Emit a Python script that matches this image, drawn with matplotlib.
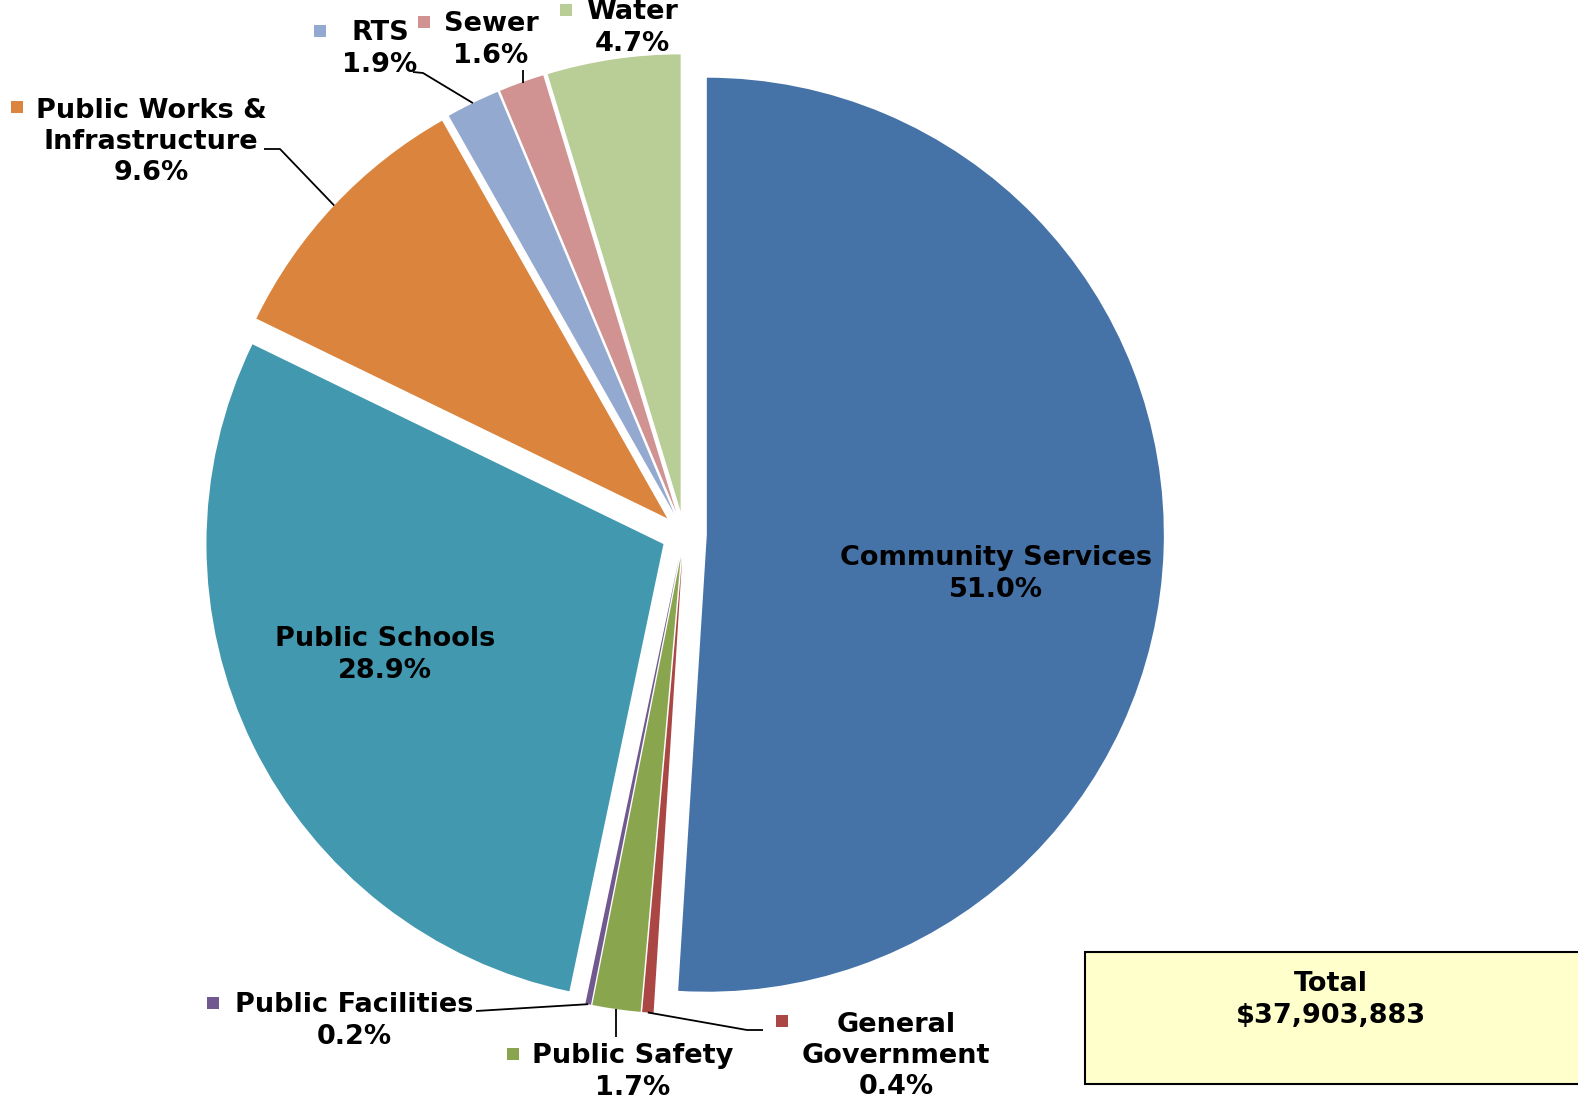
import numpy as np
import matplotlib
matplotlib.use("Agg")
from matplotlib import pyplot as plt
from matplotlib.patches import Rectangle

# spending shares by function, clockwise from 12 o'clock
categories = ["Community Services", "General\nGovernment", "Public Safety",
              "Public Facilities", "Public Schools", "Public Works &\nInfrastructure",
              "RTS", "Sewer", "Water"]
shares = [51.0, 0.4, 1.7, 0.2, 28.9, 9.6, 1.9, 1.6, 4.7]
colors = ["#4572A7", "#AA4643", "#89A54E", "#71588F", "#4198AF",
          "#DB843D", "#93A9CF", "#D19392", "#B9CD96"]
total_label = "Total\n$37,903,883"

W, H = 1578, 1105
FS = 19.5
LS = 1.27

fig = plt.figure(figsize=(W / 100, H / 100), dpi=100)
ax = fig.add_axes([0, 0, 1, 1])

cx, cy = 684, H - 534
R = 457
# pie() takes explode in data units, so scale by the radius
wedges, _ = ax.pie(shares, colors=colors, startangle=90, counterclock=False,
                   radius=R, center=(cx, cy), explode=[0.05 * R] * len(shares),
                   wedgeprops=dict(linewidth=0))
ax.set_xlim(0, W)
ax.set_ylim(0, H)
ax.set_aspect("auto")
ax.axis("off")


def edge_point(i):
    w = wedges[i]
    a = np.deg2rad((w.theta1 + w.theta2) / 2)
    return w.center[0] + w.r * np.cos(a), w.center[1] + w.r * np.sin(a)


def label_text(i):
    return f"{categories[i]}\n{shares[i]:.1f}%"


# labels inside the two big slices
for i, (x, y) in [(0, (996, 574)), (4, (385, 655))]:
    ax.text(x, H - y, label_text(i), ha="center", va="center", fontsize=FS,
            fontweight="bold", linespacing=LS)

# outside labels: (index, text centre, legend key position)
outside = [
    (5, (151, 142), (17, 107)),
    (6, (380, 49), (320, 31)),
    (7, (491, 40), (424, 22)),
    (8, (632, 28), (566, 10)),
    (3, (354, 1021), (213, 1003)),
    (2, (633, 1072), (513, 1054)),
    (1, (896, 1056), (782, 1021)),
]
for i, (x, y), (kx, ky) in outside:
    ax.text(x, H - y, label_text(i), ha="center", va="center", fontsize=FS,
            fontweight="bold", linespacing=LS)
    ax.add_patch(Rectangle((kx - 6, H - ky - 6), 12, 12, color=colors[i], lw=0))

# leader lines: start near label, end on the slice rim
leaders = {
    5: [(264, 149), (280, 149)],
    6: [(413, 72), (423, 73)],
    7: [(523, 70)],
    3: [(476, 1011)],
    2: [(616, 1037)],
    1: [(763, 1030), (747, 1030)],
}
for i, pts in leaders.items():
    ex, ey = edge_point(i)
    xs = [p[0] for p in pts] + [ex]
    ys = [H - p[1] for p in pts] + [ey]
    if i == 7 or i == 2:
        xs[-1] = xs[0]
    ax.plot(xs, ys, color="black", lw=1.3, solid_capstyle="butt")

# total box in the lower right corner
ax.add_patch(Rectangle((1085, H - 1084), 520, 132, facecolor="#FFFFCC",
                       edgecolor="black", lw=1.5, clip_on=False))
ax.text(1331, H - 1000, total_label, ha="center", va="center", fontsize=FS,
        fontweight="bold", linespacing=LS)

fig.savefig("out.png", dpi=100)
